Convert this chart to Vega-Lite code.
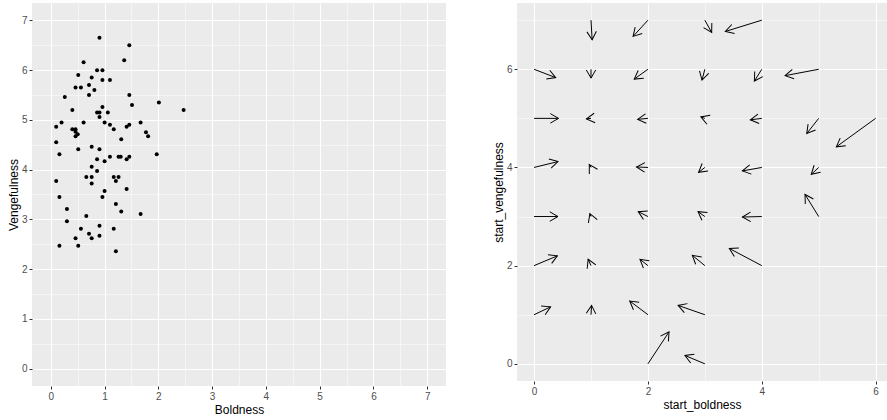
{
  "$schema": "https://vega.github.io/schema/vega-lite/v6.json",
  "padding": {"left": 7, "top": 3, "right": 0, "bottom": 0},
  "spacing": 46,
  "background": "white",
  "config": {
    "view": {"fill": "#EBEBEB", "stroke": null},
    "axis": {
      "domain": false,
      "gridColor": "white",
      "tickColor": "#333333",
      "tickSize": 3,
      "labelColor": "#4D4D4D",
      "labelFont": "Liberation Sans",
      "labelFontSize": 10,
      "labelPadding": 2,
      "labelOverlap": false,
      "labelFlush": false,
      "titleFont": "Liberation Sans",
      "titleFontSize": 12,
      "titleFontWeight": "normal",
      "titleColor": "#000000",
      "titlePadding": 3
    },
    "axisY": {"titlePadding": 1}
  },
  "datasets": {
    "pts": [
      {"Boldness": 0.905, "Vengefulness": 6.65},
      {"Boldness": 1.46, "Vengefulness": 6.5},
      {"Boldness": 0.61, "Vengefulness": 6.16},
      {"Boldness": 1.365, "Vengefulness": 6.2},
      {"Boldness": 0.86, "Vengefulness": 6.0},
      {"Boldness": 0.96, "Vengefulness": 6.0},
      {"Boldness": 0.51, "Vengefulness": 5.9},
      {"Boldness": 0.76, "Vengefulness": 5.85},
      {"Boldness": 0.96, "Vengefulness": 5.8},
      {"Boldness": 1.1, "Vengefulness": 5.8},
      {"Boldness": 0.71, "Vengefulness": 5.7},
      {"Boldness": 0.46, "Vengefulness": 5.65},
      {"Boldness": 0.56, "Vengefulness": 5.65},
      {"Boldness": 0.81, "Vengefulness": 5.6},
      {"Boldness": 0.71, "Vengefulness": 5.5},
      {"Boldness": 1.46, "Vengefulness": 5.5},
      {"Boldness": 0.26, "Vengefulness": 5.46},
      {"Boldness": 2.01, "Vengefulness": 5.35},
      {"Boldness": 1.51, "Vengefulness": 5.3},
      {"Boldness": 2.47, "Vengefulness": 5.2},
      {"Boldness": 0.4, "Vengefulness": 5.2},
      {"Boldness": 0.96, "Vengefulness": 5.26},
      {"Boldness": 0.86, "Vengefulness": 5.15},
      {"Boldness": 0.905, "Vengefulness": 5.15},
      {"Boldness": 1.06, "Vengefulness": 5.15},
      {"Boldness": 0.905, "Vengefulness": 5.06},
      {"Boldness": 0.2, "Vengefulness": 4.95},
      {"Boldness": 0.61, "Vengefulness": 4.95},
      {"Boldness": 1.0, "Vengefulness": 4.95},
      {"Boldness": 1.67, "Vengefulness": 4.95},
      {"Boldness": 1.1, "Vengefulness": 4.9},
      {"Boldness": 1.46, "Vengefulness": 4.9},
      {"Boldness": 0.1, "Vengefulness": 4.86},
      {"Boldness": 1.41, "Vengefulness": 4.86},
      {"Boldness": 0.4, "Vengefulness": 4.81},
      {"Boldness": 0.46, "Vengefulness": 4.81},
      {"Boldness": 1.17, "Vengefulness": 4.81},
      {"Boldness": 0.46, "Vengefulness": 4.76},
      {"Boldness": 1.77, "Vengefulness": 4.75},
      {"Boldness": 0.5, "Vengefulness": 4.71},
      {"Boldness": 0.46, "Vengefulness": 4.67},
      {"Boldness": 1.81, "Vengefulness": 4.67},
      {"Boldness": 1.31, "Vengefulness": 4.61},
      {"Boldness": 0.1, "Vengefulness": 4.55},
      {"Boldness": 0.76, "Vengefulness": 4.46},
      {"Boldness": 0.51, "Vengefulness": 4.41},
      {"Boldness": 0.905, "Vengefulness": 4.41},
      {"Boldness": 0.16, "Vengefulness": 4.31},
      {"Boldness": 1.97, "Vengefulness": 4.31},
      {"Boldness": 1.1, "Vengefulness": 4.26},
      {"Boldness": 1.26, "Vengefulness": 4.26},
      {"Boldness": 1.3, "Vengefulness": 4.26},
      {"Boldness": 1.46, "Vengefulness": 4.26},
      {"Boldness": 0.86, "Vengefulness": 4.21},
      {"Boldness": 1.41, "Vengefulness": 4.21},
      {"Boldness": 1.0, "Vengefulness": 4.17},
      {"Boldness": 0.76, "Vengefulness": 4.06},
      {"Boldness": 0.86, "Vengefulness": 3.97},
      {"Boldness": 0.66, "Vengefulness": 3.85},
      {"Boldness": 0.76, "Vengefulness": 3.85},
      {"Boldness": 1.17, "Vengefulness": 3.85},
      {"Boldness": 1.26, "Vengefulness": 3.85},
      {"Boldness": 0.1, "Vengefulness": 3.77},
      {"Boldness": 0.76, "Vengefulness": 3.72},
      {"Boldness": 1.21, "Vengefulness": 3.77},
      {"Boldness": 1.41, "Vengefulness": 3.61},
      {"Boldness": 1.0, "Vengefulness": 3.57},
      {"Boldness": 0.96, "Vengefulness": 3.45},
      {"Boldness": 0.16, "Vengefulness": 3.45},
      {"Boldness": 1.21, "Vengefulness": 3.31},
      {"Boldness": 0.3, "Vengefulness": 3.21},
      {"Boldness": 1.31, "Vengefulness": 3.16},
      {"Boldness": 1.67, "Vengefulness": 3.11},
      {"Boldness": 0.66, "Vengefulness": 3.07},
      {"Boldness": 0.3, "Vengefulness": 2.96},
      {"Boldness": 0.905, "Vengefulness": 2.87},
      {"Boldness": 0.56, "Vengefulness": 2.81},
      {"Boldness": 1.17, "Vengefulness": 2.81},
      {"Boldness": 0.71, "Vengefulness": 2.71},
      {"Boldness": 0.905, "Vengefulness": 2.67},
      {"Boldness": 0.46, "Vengefulness": 2.62},
      {"Boldness": 0.76, "Vengefulness": 2.62},
      {"Boldness": 0.16, "Vengefulness": 2.47},
      {"Boldness": 0.51, "Vengefulness": 2.47},
      {"Boldness": 1.21, "Vengefulness": 2.36}
    ],
    "arrows": [
      {"sb": 1, "sv": 7, "eb": 1.02, "ev": 6.6},
      {"sb": 2, "sv": 7, "eb": 1.74, "ev": 6.67},
      {"sb": 3, "sv": 7, "eb": 3.12, "ev": 6.75},
      {"sb": 4, "sv": 7, "eb": 3.36, "ev": 6.77},
      {"sb": 0, "sv": 6, "eb": 0.38, "ev": 5.83},
      {"sb": 1, "sv": 6, "eb": 1.0, "ev": 5.82},
      {"sb": 2, "sv": 6, "eb": 1.76, "ev": 5.8},
      {"sb": 3, "sv": 6, "eb": 2.95, "ev": 5.78},
      {"sb": 4, "sv": 6, "eb": 3.87, "ev": 5.76},
      {"sb": 5, "sv": 6, "eb": 4.41, "ev": 5.87},
      {"sb": 0, "sv": 5, "eb": 0.43, "ev": 5.0},
      {"sb": 1, "sv": 5, "eb": 0.92, "ev": 4.99},
      {"sb": 2, "sv": 5, "eb": 1.82, "ev": 4.98},
      {"sb": 3, "sv": 5, "eb": 2.93, "ev": 5.03},
      {"sb": 4, "sv": 5, "eb": 3.8, "ev": 4.97},
      {"sb": 5, "sv": 5, "eb": 4.79, "ev": 4.69},
      {"sb": 6, "sv": 5, "eb": 5.31, "ev": 4.42},
      {"sb": 0, "sv": 4, "eb": 0.42, "ev": 4.12},
      {"sb": 1, "sv": 4, "eb": 0.97, "ev": 4.06},
      {"sb": 2, "sv": 4, "eb": 1.8, "ev": 4.01},
      {"sb": 3, "sv": 4, "eb": 2.89, "ev": 3.9},
      {"sb": 4, "sv": 4, "eb": 3.66, "ev": 3.93},
      {"sb": 5, "sv": 4, "eb": 4.87, "ev": 3.86},
      {"sb": 0, "sv": 3, "eb": 0.42, "ev": 3.0},
      {"sb": 1, "sv": 3, "eb": 0.98, "ev": 3.06},
      {"sb": 2, "sv": 3, "eb": 1.83, "ev": 3.1},
      {"sb": 3, "sv": 3, "eb": 2.88, "ev": 3.1},
      {"sb": 4, "sv": 3, "eb": 3.66, "ev": 2.99},
      {"sb": 5, "sv": 3, "eb": 4.76, "ev": 3.45},
      {"sb": 0, "sv": 2, "eb": 0.41, "ev": 2.2},
      {"sb": 1, "sv": 2, "eb": 0.95, "ev": 2.13},
      {"sb": 2, "sv": 2, "eb": 1.86, "ev": 2.13},
      {"sb": 3, "sv": 2, "eb": 2.78, "ev": 2.21},
      {"sb": 4, "sv": 2, "eb": 3.43, "ev": 2.35},
      {"sb": 0, "sv": 1, "eb": 0.29, "ev": 1.16},
      {"sb": 1, "sv": 1, "eb": 1.01, "ev": 1.19},
      {"sb": 2, "sv": 1, "eb": 1.68, "ev": 1.28},
      {"sb": 3, "sv": 1, "eb": 2.53, "ev": 1.19},
      {"sb": 2, "sv": 0, "eb": 2.37, "ev": 0.65},
      {"sb": 3, "sv": 0, "eb": 2.65, "ev": 0.17}
    ]
  },
  "hconcat": [
    {
      "width": 414,
      "height": 383,
      "data": {"name": "pts"},
      "mark": {"type": "point", "filled": true, "size": 16, "opacity": 1, "color": "black"},
      "encoding": {
        "x": {
          "field": "Boldness", "type": "quantitative",
          "scale": {"domain": [-0.35, 7.35], "nice": false, "zero": false},
          "axis": {
            "title": "Boldness",
            "values": [0, 0.5, 1, 1.5, 2, 2.5, 3, 3.5, 4, 4.5, 5, 5.5, 6, 6.5, 7],
            "labelExpr": "datum.value % 1 === 0 ? '' + datum.value : ''",
            "tickOpacity": {"condition": {"test": "datum.value % 1 !== 0", "value": 0}, "value": 1},
            "gridWidth": {"condition": {"test": "datum.value % 1 !== 0", "value": 0.5}, "value": 1.1}
          }
        },
        "y": {
          "field": "Vengefulness", "type": "quantitative",
          "scale": {"domain": [-0.35, 7.35], "nice": false, "zero": false},
          "axis": {
            "title": "Vengefulness",
            "values": [0, 0.5, 1, 1.5, 2, 2.5, 3, 3.5, 4, 4.5, 5, 5.5, 6, 6.5, 7],
            "labelExpr": "datum.value % 1 === 0 ? '' + datum.value : ''",
            "tickOpacity": {"condition": {"test": "datum.value % 1 !== 0", "value": 0}, "value": 1},
            "gridWidth": {"condition": {"test": "datum.value % 1 !== 0", "value": 0.5}, "value": 1.1}
          }
        }
      }
    },
    {
      "width": 370,
      "height": 378,
      "data": {"name": "arrows"},
      "transform": [
        {"calculate": "atan2(-(datum.ev - datum.sv) * 49.09, (datum.eb - datum.sb) * 56.92) * 180 / PI", "as": "angle"}
      ],
      "encoding": {
        "x": {
          "field": "sb", "type": "quantitative",
          "scale": {"domain": [-0.3, 6.2], "nice": false, "zero": false},
          "axis": {
            "title": "start_boldness",
            "values": [0, 1, 2, 3, 4, 5, 6],
            "labelExpr": "datum.value % 2 === 0 ? '' + datum.value : ''",
            "tickOpacity": {"condition": {"test": "datum.value % 2 !== 0", "value": 0}, "value": 1},
            "gridWidth": {"condition": {"test": "datum.value % 2 !== 0", "value": 0.5}, "value": 1.1}
          }
        },
        "y": {
          "field": "sv", "type": "quantitative",
          "scale": {"domain": [-0.35, 7.35], "nice": false, "zero": false},
          "axis": {
            "title": "start_vengefulness",
            "values": [0, 1, 2, 3, 4, 5, 6, 7],
            "labelExpr": "datum.value % 2 === 0 ? '' + datum.value : ''",
            "tickOpacity": {"condition": {"test": "datum.value % 2 !== 0", "value": 0}, "value": 1},
            "gridWidth": {"condition": {"test": "datum.value % 2 !== 0", "value": 0.5}, "value": 1.1}
          }
        }
      },
      "layer": [
        {
          "mark": {"type": "rule", "color": "black", "strokeWidth": 1},
          "encoding": {
            "x2": {"field": "eb"},
            "y2": {"field": "ev"}
          }
        },
        {
          "mark": {"type": "point", "shape": "M -0.866 -0.5 L 0 0 L -0.866 0.5", "filled": false, "stroke": "black", "strokeWidth": 1, "opacity": 1, "size": 361},
          "encoding": {
            "x": {"field": "eb", "type": "quantitative"},
            "y": {"field": "ev", "type": "quantitative"},
            "angle": {"field": "angle", "type": "quantitative", "scale": null}
          }
        }
      ]
    }
  ]
}
